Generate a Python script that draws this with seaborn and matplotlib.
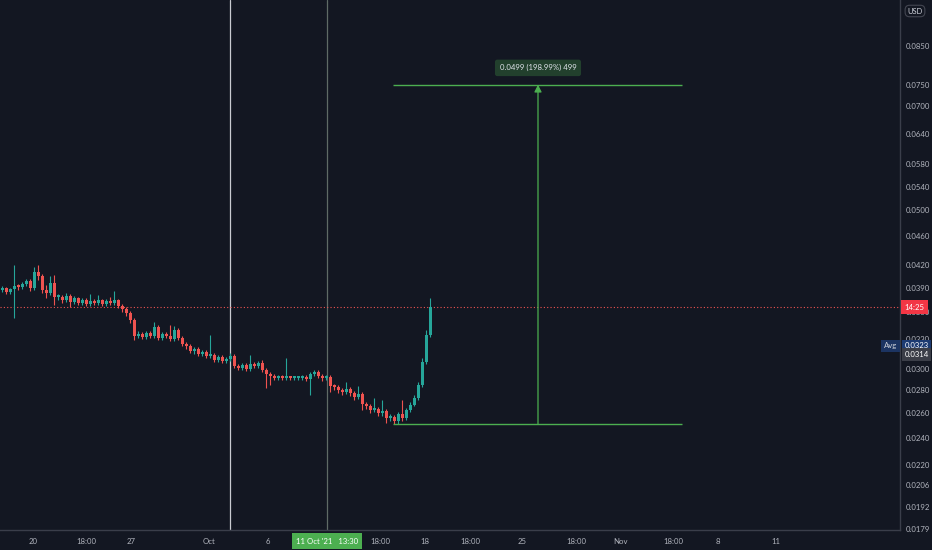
import numpy as np
import pandas as pd
import matplotlib
matplotlib.use("Agg")
import matplotlib.pyplot as plt
import seaborn as sns
from matplotlib.transforms import blended_transform_factory
from matplotlib.ticker import NullLocator

# ---------------- data ----------------
first_open = 0.03869
closes = [0.03894, 0.03845, 0.03882, 0.03920, 0.03907, 0.03945, 0.03983, 0.03894, 0.04100, 0.04048,
          0.03869, 0.03833, 0.03958, 0.03783, 0.03783, 0.03746, 0.03795, 0.03722, 0.03771, 0.03710,
          0.03746, 0.03698, 0.03734, 0.03710, 0.03746, 0.03698, 0.03734, 0.03710, 0.03746, 0.03674,
          0.03638, 0.03592, 0.03512, 0.03336, 0.03358, 0.03325, 0.03368, 0.03336, 0.03434, 0.03314,
          0.03358, 0.03336, 0.03304, 0.03401, 0.03314, 0.03251, 0.03230, 0.03179, 0.03199, 0.03148,
          0.03168, 0.03128, 0.03138, 0.03087, 0.03118, 0.03077, 0.03097, 0.03128, 0.03028, 0.03008,
          0.03038, 0.02999, 0.03048, 0.03028, 0.03058, 0.02989, 0.02951, 0.02932, 0.02913, 0.02922,
          0.02913, 0.02922, 0.02913, 0.02913, 0.02913, 0.02922, 0.02904, 0.02951, 0.02970, 0.02932,
          0.02913, 0.02922, 0.02839, 0.02830, 0.02802, 0.02784, 0.02811, 0.02775, 0.02739, 0.02766,
          0.02678, 0.02661, 0.02627, 0.02635, 0.02602, 0.02618, 0.02560, 0.02568, 0.02535, 0.02593,
          0.02560, 0.02627, 0.02670, 0.02730, 0.02848, 0.03067, 0.03346, 0.03662]
highs = [0.03920, 0.03907, 0.03894, 0.04194, 0.03945, 0.03971, 0.04009, 0.04009, 0.04167, 0.04194,
         0.04074, 0.03932, 0.04048, 0.04061, 0.03820, 0.03808, 0.03833, 0.03820, 0.03795, 0.03783,
         0.03771, 0.03771, 0.03820, 0.03758, 0.03808, 0.03758, 0.03758, 0.03783, 0.03857, 0.03758,
         0.03698, 0.03662, 0.03615, 0.03535, 0.03390, 0.03379, 0.03390, 0.03390, 0.03490, 0.03456,
         0.03379, 0.03379, 0.03456, 0.03445, 0.03423, 0.03336, 0.03272, 0.03251, 0.03220, 0.03220,
         0.03189, 0.03189, 0.03347, 0.03158, 0.03138, 0.03138, 0.03118, 0.03158, 0.03148, 0.03048,
         0.03058, 0.03058, 0.03138, 0.03067, 0.03077, 0.03087, 0.03008, 0.02970, 0.02951, 0.02941,
         0.02941, 0.03107, 0.02932, 0.02932, 0.02932, 0.02941, 0.02941, 0.02970, 0.02989, 0.02989,
         0.02951, 0.02941, 0.02941, 0.02857, 0.02848, 0.02820, 0.02876, 0.02830, 0.02793, 0.02839,
         0.02784, 0.02696, 0.02678, 0.02730, 0.02652, 0.02713, 0.02635, 0.02593, 0.02585, 0.02610,
         0.02713, 0.02644, 0.02696, 0.02757, 0.02876, 0.03107, 0.03401, 0.03771]
lows = [0.03845, 0.03820, 0.03820, 0.03535, 0.03869, 0.03882, 0.03920, 0.03857, 0.03869, 0.03996,
        0.03833, 0.03771, 0.03808, 0.03686, 0.03746, 0.03710, 0.03722, 0.03662, 0.03698, 0.03686,
        0.03686, 0.03674, 0.03674, 0.03686, 0.03686, 0.03674, 0.03674, 0.03686, 0.03686, 0.03650,
        0.03604, 0.03558, 0.03479, 0.03293, 0.03314, 0.03304, 0.03304, 0.03314, 0.03314, 0.03293,
        0.03293, 0.03314, 0.03283, 0.03283, 0.03293, 0.03230, 0.03199, 0.03158, 0.03148, 0.03128,
        0.03128, 0.03107, 0.03107, 0.03067, 0.03067, 0.03058, 0.03058, 0.03077, 0.03008, 0.02989,
        0.02989, 0.02980, 0.02980, 0.03008, 0.03008, 0.02970, 0.02820, 0.02848, 0.02894, 0.02894,
        0.02894, 0.02894, 0.02894, 0.02894, 0.02894, 0.02894, 0.02885, 0.02757, 0.02932, 0.02913,
        0.02885, 0.02894, 0.02784, 0.02802, 0.02775, 0.02757, 0.02766, 0.02748, 0.02713, 0.02721,
        0.02627, 0.02635, 0.02602, 0.02610, 0.02577, 0.02577, 0.02519, 0.02535, 0.02511, 0.02511,
        0.02535, 0.02543, 0.02610, 0.02661, 0.02713, 0.02830, 0.03048, 0.03325]

last_price = 0.0366
countdown = "14:25"
avg_price = 0.0323
avg_price2 = 0.0314
measure_low = 0.0251
measure_high = 0.0750
measure_label = "0.0499 (198.99%) 499"

y_ticks = [0.0850, 0.0750, 0.0700, 0.0640, 0.0580, 0.0540, 0.0500, 0.0460, 0.0420, 0.0390,
           0.0360, 0.0330, 0.0300, 0.0280, 0.0260, 0.0240, 0.0220, 0.0206, 0.0192, 0.0179]
x_tick_pos = [7.75, 21, 32.25, 51.75, 66.5, 94.5, 105.75, 117, 130, 143.5, 154.5, 167.75, 179, 193.5]
x_tick_labels = ["20", "18:00", "27", "Oct", "6", "18:00", "18", "18:00", "25", "18:00",
                 "Nov", "18:00", "8", "11"]
crosshair_label = "11 Oct '21   13:30"

# ---------------- style ----------------
BG = "#131722"
TXT = "#b2b5be"
UP = "#26a69a"
DOWN = "#ef5350"
GREEN = "#4caf50"
FS = 5.6

sns.set_theme(style="dark", rc={"axes.facecolor": BG, "figure.facecolor": BG})
plt.rcParams["font.family"] = ["Lato", "DejaVu Sans"]

opens = [first_open] + closes[:-1]
df = pd.DataFrame({"i": np.arange(len(closes)), "open": opens, "close": closes,
                   "high": highs, "low": lows})
df["up"] = df["close"] >= df["open"]
df["color"] = np.where(df["up"], UP, DOWN)
df["bot"] = df[["open", "close"]].min(axis=1)
df["top"] = df[["open", "close"]].max(axis=1)

fig = plt.figure(figsize=(9.32, 5.5), dpi=100)
ax = fig.add_axes([0, 20 / 550, 900 / 932, 530 / 550])
ax.set_facecolor(BG)
ax.set_yscale("log")
ax.set_ylim(0.01784, 0.09858)
ax.set_xlim(-0.5, 224.5)

# candles
ax.vlines(df["i"], df["low"], df["high"], colors=df["color"], lw=0.8, zorder=3)
heights = np.maximum(df["top"] - df["bot"], df["top"] * 0.006)
ax.bar(df["i"], heights, bottom=df["bot"], width=0.75, color=df["color"], lw=0, zorder=4)

# vertical lines
ax.axvline(57, color="#c9cbd1", lw=0.9, zorder=2)
ax.axvline(81.25, color="#5f6b66", lw=0.9, zorder=2)

# last price dotted line
ax.axhline(last_price, color=DOWN, lw=0.8, ls=(0, (1, 2)), zorder=2)

# measurement tool
ax.hlines([measure_low, measure_high], 97.75, 170, color=GREEN, lw=1, zorder=5)
ax.annotate("", xy=(134, measure_high), xytext=(134, measure_low),
            arrowprops=dict(arrowstyle="-|>,head_length=0.35,head_width=0.18",
                            color=GREEN, lw=0.9, shrinkA=0, shrinkB=0), zorder=5)
ax.text(134, 0.0792, measure_label, ha="center", va="center", color="#e0e3eb", fontsize=FS,
        bbox=dict(boxstyle="round,pad=0.6,rounding_size=0.3", fc="#22402d", ec="none"), zorder=6)

# axes styling
for s in ["top", "left"]:
    ax.spines[s].set_visible(False)
for s in ["right", "bottom"]:
    ax.spines[s].set_color("#3a3e4a")
    ax.spines[s].set_linewidth(1)
ax.yaxis.tick_right()
ax.set_yticks(y_ticks)
ax.set_yticklabels([f"{v:.4f}" for v in y_ticks])
ax.yaxis.set_minor_locator(NullLocator())
ax.tick_params(axis="y", length=0, pad=4, labelsize=FS, labelcolor=TXT)
ax.set_xticks(x_tick_pos)
ax.set_xticklabels(x_tick_labels)
ax.tick_params(axis="x", length=0, pad=6, labelsize=FS, labelcolor=TXT)
ax.grid(False)

# right side labels
ty = blended_transform_factory(ax.transAxes, ax.transData)
ax.text(1.005, last_price, countdown, transform=ty, ha="left", va="center", color="#ffffff",
        fontsize=FS, clip_on=False, zorder=10,
        bbox=dict(boxstyle="square,pad=0.45", fc="#f23645", ec="none"))
ax.text(0.982, avg_price, "Avg", transform=ty, ha="left", va="center", color="#d1d4dc",
        fontsize=FS, clip_on=False, zorder=10,
        bbox=dict(boxstyle="square,pad=0.35", fc="#1c3462", ec="none"))
ax.text(1.005, avg_price, f"{avg_price:.4f}", transform=ty, ha="left", va="center",
        color="#ffffff", fontsize=FS, clip_on=False, zorder=10,
        bbox=dict(boxstyle="square,pad=0.35", fc="#1d3b72", ec="none"))
ax.text(1.005, avg_price2, f"{avg_price2:.4f}", transform=ty, ha="left", va="center",
        color="#ffffff", fontsize=FS, clip_on=False, zorder=10,
        bbox=dict(boxstyle="square,pad=0.35", fc="#3b3e48", ec="none"))

# crosshair date label
tx = blended_transform_factory(ax.transData, ax.transAxes)
ax.text(81.25, -0.021, crosshair_label, transform=tx, ha="center", va="center",
        color="#ffffff", fontsize=FS, clip_on=False, zorder=10,
        bbox=dict(boxstyle="square,pad=0.55", fc=GREEN, ec="none"))

# currency box
fig.text(915 / 932, 1 - 11 / 550, "USD", ha="center", va="center", color="#d1d4dc", fontsize=5.4,
         bbox=dict(boxstyle="round,pad=0.3,rounding_size=0.6", fc=BG, ec="#434651", lw=0.8))

fig.savefig("out.png", dpi=100, facecolor=BG)
